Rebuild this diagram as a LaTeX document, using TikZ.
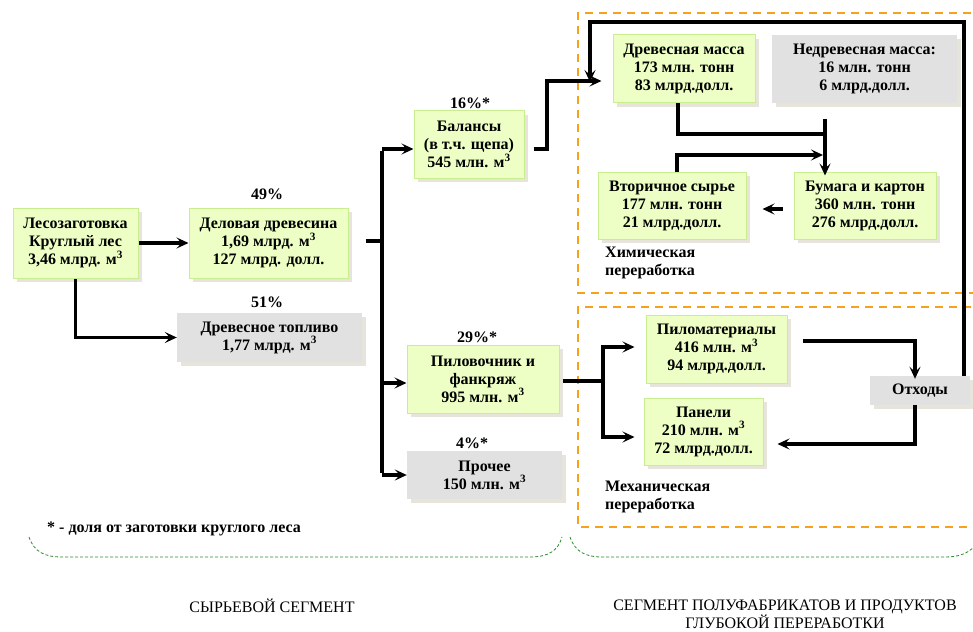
\documentclass[tikz,border=0pt]{standalone}
\usepackage{fontspec}
\setmainfont{Liberation Serif}
\usetikzlibrary{arrows.meta,shadows}
\definecolor{greenfill}{HTML}{EEFFC6}
\definecolor{greenline}{HTML}{C8EE90}
\definecolor{grayfill}{HTML}{E1E1E1}
\definecolor{shade}{HTML}{E7E4DB}
\definecolor{orangeline}{HTML}{F7A21B}
\definecolor{bracegreen}{HTML}{2E8B2E}
\newcommand{\cubm}{м\textsuperscript{3}}
\begin{document}
\begin{tikzpicture}[x=1pt,y=-1pt,
  txt/.style={font=\fontsize{16}{18}\selectfont\bfseries},
  boxbase/.style={txt, align=center, inner sep=0pt, anchor=center,
    drop shadow={shadow xshift=4pt, shadow yshift=-4pt, fill=shade, opacity=1}},
  greenbox/.style={boxbase, fill=greenfill, draw=greenline, line width=1pt},
  graybox/.style={boxbase, fill=grayfill, draw=none},
  flow/.style={line width=3.5pt, line cap=butt, line join=miter},
  arr/.style={flow, -{Stealth[length=12pt,width=11pt,inset=5pt]}},
  zone/.style={draw=orangeline, line width=2.2pt, dash pattern=on 8pt off 6pt},
  brace/.style={draw=bracegreen, line width=0.8pt, dash pattern=on 3pt off 2pt},
  pct/.style={txt, anchor=center},
  seg/.style={font=\fontsize{16}{16}\selectfont, align=center, anchor=center}
]
\clip (0,0) rectangle (973,631);
\fill[white] (0,0) rectangle (973,631);

% processing zones
\draw[zone] (985,13) -- (578,13) -- (578,293) -- (985,293);
\draw[zone] (985,307) -- (578,307) -- (578,527) -- (985,527);

% raw-material segment
\node[greenbox, minimum width=125pt, minimum height=70pt] (les) at (75.5,243)
  {Лесозаготовка\\Круглый лес\\3,46 млрд. \cubm};
\node[greenbox, minimum width=159pt, minimum height=70pt] (del) at (268.5,243)
  {Деловая древесина\\1,69 млрд. \cubm\\127 млрд. долл.};
\node[graybox, minimum width=185pt, minimum height=49pt] (top) at (269.5,337.5)
  {Древесное топливо\\1,77 млрд. \cubm};
\node[greenbox, minimum width=110pt, minimum height=67pt] (bal) at (469,144.5)
  {Балансы\\(в т.ч. щепа)\\545 млн. \cubm};
\node[greenbox, minimum width=152pt, minimum height=68pt] (pil) at (483,379)
  {Пиловочник и\\фанкряж\\995 млн. \cubm};
\node[graybox, minimum width=155pt, minimum height=48pt] (pro) at (484.5,475)
  {Прочее\\150 млн. \cubm};

\node[pct] (p49) at (267,194) {49\%};
\node[pct] (p51) at (267,302) {51\%};
\node[pct] (p16) at (470,103) {16\%*};
\node[pct] (p29) at (477,337) {29\%*};
\node[pct] (p4) at (472,443) {4\%*};

% chemical processing
\node[greenbox, minimum width=142pt, minimum height=68pt] (dm) at (684,69)
  {Древесная масса\\173 млн. тонн\\83 млрд.долл.};
\node[graybox, minimum width=185pt, minimum height=68pt] (ndm) at (864.5,69)
  {Недревесная масса:\\16 млн. тонн\\6 млрд.долл.};
\node[greenbox, minimum width=148pt, minimum height=67pt] (vs) at (672,205.5)
  {Вторичное сырье\\177 млн. тонн\\21 млрд.долл.};
\node[greenbox, minimum width=142pt, minimum height=67pt] (bk) at (865,205.5)
  {Бумага и картон\\360 млн. тонн\\276 млрд.долл.};
\node[txt, align=left, anchor=north west, inner sep=0pt] (chem) at (605,247)
  {Химическая\\переработка};

% mechanical processing
\node[greenbox, minimum width=141pt, minimum height=68pt] (plm) at (716.5,349)
  {Пиломатериалы\\416 млн. \cubm\\94 млрд.долл.};
\node[graybox, minimum width=100pt, minimum height=29pt] (otx) at (920,390.5)
  {Отходы};
\node[greenbox, minimum width=119pt, minimum height=67pt] (pan) at (703.5,431.5)
  {Панели\\210 млн. \cubm\\72 млрд.долл.};
\node[txt, align=left, anchor=north west, inner sep=0pt] (mech) at (605,481)
  {Механическая\\переработка};

% flows of the raw-material segment
\draw[arr] (les.east) -- (del.west);
\draw[arr] (les.south) |- (top.west);
\coordinate (trA) at (382,149);
\coordinate (trB) at (382,383);
\coordinate (trC) at (382,475);
\coordinate (trM) at (382,241);
\draw[flow] ([xshift=17pt]del.east |- trM) -- (trM);
\draw[flow] ([yshift=-1.75pt]trA) -- ([yshift=1.75pt]trC);
\draw[arr] (trA) -- (trA -| bal.west);
\draw[arr] (trB) -- (trB -| pil.west);
\draw[arr] (trC) -- (trC -| pro.west);

% pulpwood to wood pulp
\coordinate (balK) at (547,81);
\draw[arr] ([xshift=9pt]bal.east |- 0,149) -| (balK) -- ([xshift=-11pt]dm.west |- balK);

% chemical flows
\coordinate (dmJ) at (678,134);
\coordinate (jn) at (825,134);
\draw[flow] (dm.south -| dmJ) |- ([xshift=1.75pt]jn);
\draw[arr] (jn |- 0,119) -- ([yshift=-4pt]jn |- bk.north);
\coordinate (vsJ) at (677,155);
\draw[arr] (vs.north -| vsJ) |- (823,155);
\draw[arr] ([xshift=-11pt]bk.west |- 0,209) -- ([xshift=16pt]vs.east |- 0,209);

% mechanical flows
\coordinate (mtr) at (603,381);
\draw[flow] ([xshift=3pt]pil.east |- mtr) -- (mtr);
\draw[flow] (603,345.25) -- (603,438.75);
\draw[arr] (603,347) -- ([xshift=-11pt]plm.west |- 0,347);
\draw[arr] (603,437) -- ([xshift=-9pt]pan.west |- 0,437);
\coordinate (plmK) at (915,341);
\draw[arr] ([xshift=15pt]plm.east |- plmK) -| ([yshift=-3pt]plmK |- otx.north);
\coordinate (otxK) at (915,444);
\draw[arr] (otx.south -| otxK) |- ([xshift=14pt]pan.east |- otxK);

% waste back to wood pulp
\draw[arr] (964,376) |- (590,22) -- (590,82);

% footnote and segment braces
\node[txt, anchor=west, inner sep=0pt] (note) at (47,529)
  {* - доля от заготовки круглого леса};
\draw[brace] (29,537) .. controls (34,552) and (45,557) .. (62,557) -- (530,557)
  .. controls (548,557) and (558,551) .. (562,537);
\draw[brace] (570,537) .. controls (575,552) and (586,557) .. (602,557) -- (945,557)
  .. controls (960,557) and (968,553) .. (975,546);
\node[seg] (s1) at (272,606) {СЫРЬЕВОЙ СЕГМЕНТ};
\node[seg] (s2) at (785,614) {СЕГМЕНТ ПОЛУФАБРИКАТОВ И ПРОДУКТОВ\\ГЛУБОКОЙ ПЕРЕРАБОТКИ};
\end{tikzpicture}
\end{document}
